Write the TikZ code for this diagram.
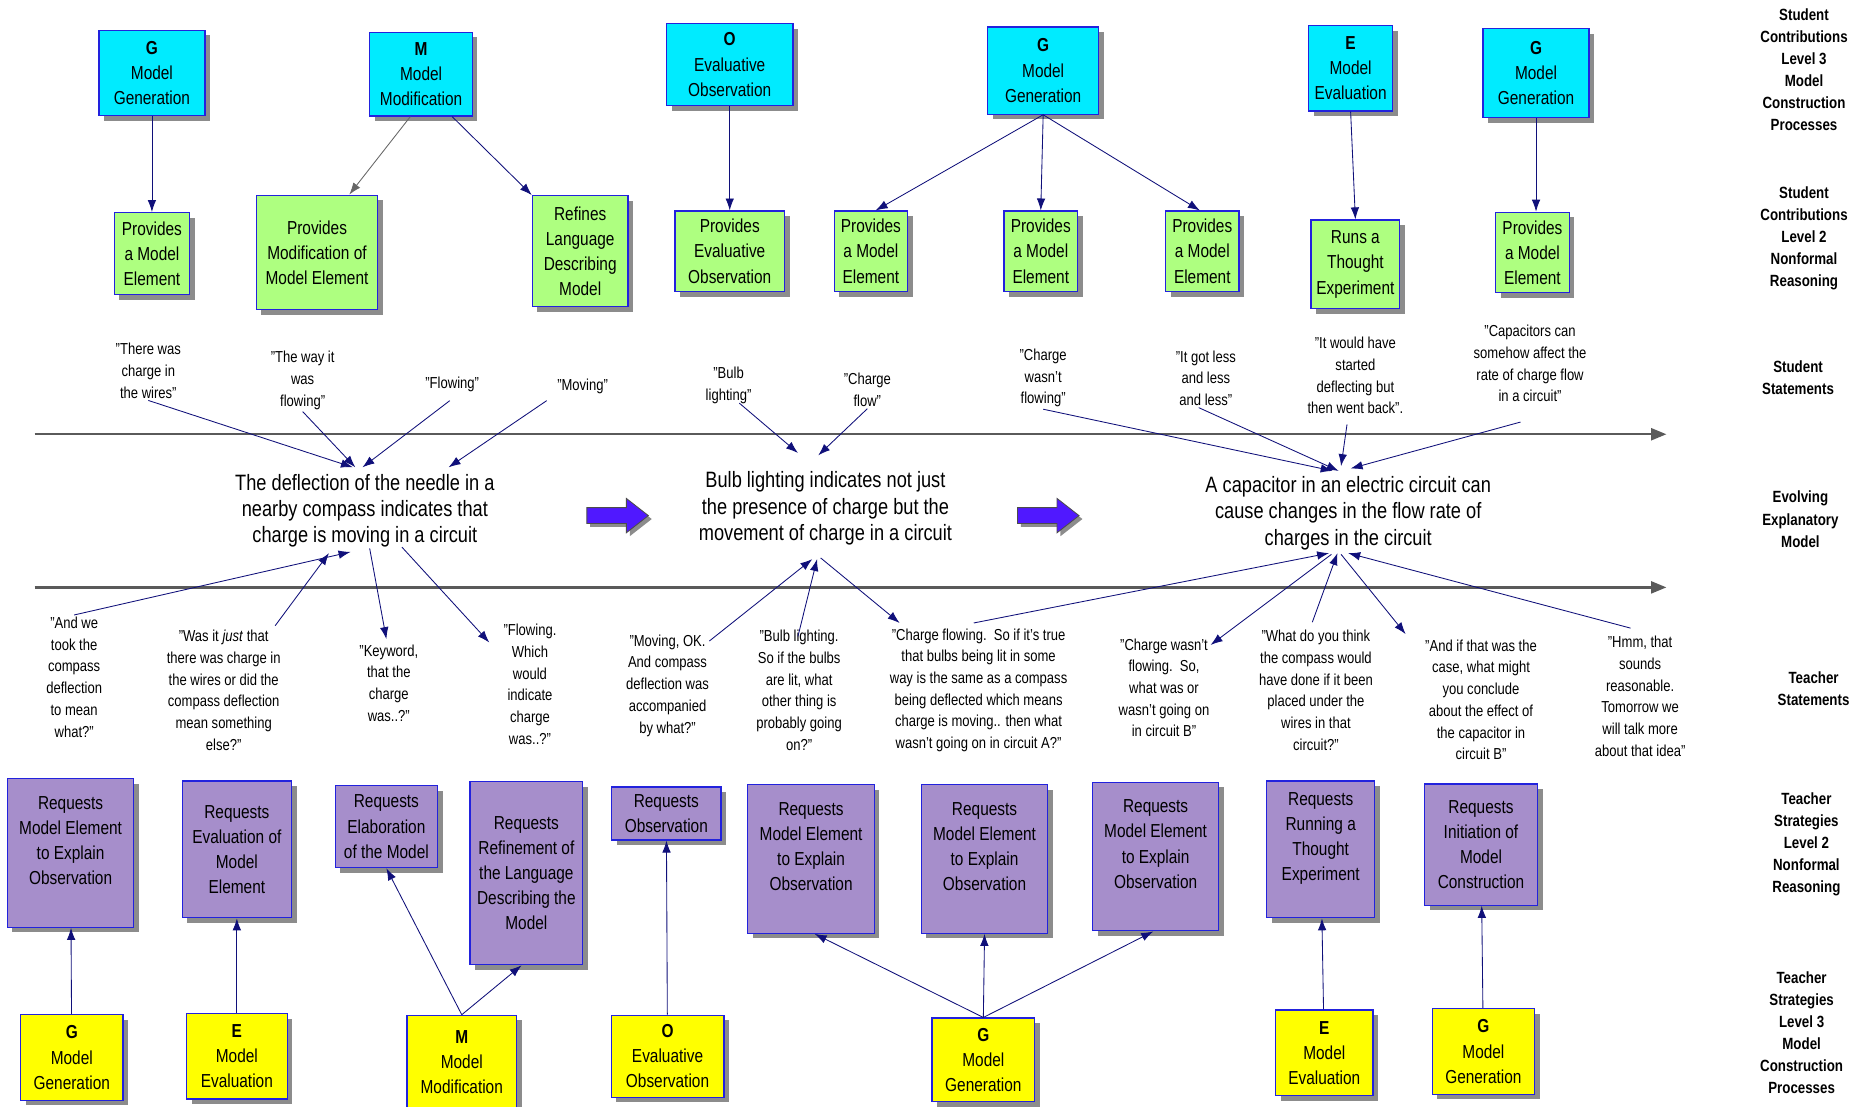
\documentclass[tikz,border=0pt]{standalone}
\usepackage{fontspec}
\setmainfont[FakeStretch=0.82, Ligatures=ResetAll]{Liberation Sans}
\usetikzlibrary{arrows.meta,shadows,shapes.arrows}
\definecolor{procblue}{HTML}{00EBFF}
\definecolor{reasongreen}{HTML}{AEFF80}
\definecolor{strategy}{HTML}{A68ECB}
\definecolor{teachyellow}{HTML}{FFFF00}
\definecolor{edgeblue}{HTML}{2222DD}
\definecolor{navy}{HTML}{10107A}
\definecolor{linegray}{HTML}{5A5A5A}
\definecolor{bluearrow}{HTML}{5018FF}
\begin{document}
\begin{tikzpicture}[x=0.7pt,y=-0.7pt,
  card/.style={draw=edgeblue, line width=0.7pt, align=center, inner sep=1pt,
    font=\fontsize{11}{14.7}\selectfont,
    drop shadow={shadow xshift=3pt, shadow yshift=-3pt, fill=black!45, opacity=1}},
  proc/.style={card, fill=procblue},
  reason/.style={card, fill=reasongreen},
  strat/.style={card, fill=strategy},
  tproc/.style={card, fill=teachyellow},
  said/.style={align=center, inner sep=1pt, font=\fontsize{9.3}{12.7}\selectfont},
  idea/.style={align=center, inner sep=1pt, font=\fontsize{13}{15.4}\selectfont},
  rowname/.style={align=center, inner sep=1pt, font=\bfseries\fontsize{9.5}{12.9}\selectfont},
  link/.style={draw=navy, line width=0.5pt, -{Latex[length=7pt,width=5pt]}},
  timeline/.style={draw=linegray, line width=1.4pt, -{Triangle[length=9pt,width=7pt]}},
  nextidea/.style={single arrow, fill=bluearrow, draw=black!70, line width=0.5pt,
    minimum height=36pt, inner xsep=0pt, inner ysep=4.4pt,
    single arrow head extend=5.4pt, single arrow tip angle=76,
    drop shadow={shadow xshift=2pt, shadow yshift=-2pt, fill=black!45, opacity=1}}]
  \path[use as bounding box, fill=white] (0,0) rectangle (1564,925);

  \node[proc, minimum width=62, minimum height=50] (SP1) at (127,61) {\textbf{G}\\Model\\Generation};
  \node[proc, minimum width=60, minimum height=49] (SP2) at (352,62) {\textbf{M}\\Model\\Modification};
  \node[proc, minimum width=74, minimum height=48] (SP3) at (610,54) {\textbf{O}\\Evaluative\\Observation};
  \node[proc, minimum width=65, minimum height=51] (SP4) at (872,59) {\textbf{G}\\Model\\Generation};
  \node[proc, minimum width=49, minimum height=50] (SP5) at (1129,57) {\textbf{E}\\Model\\Evaluation};
  \node[proc, minimum width=62, minimum height=52] (SP6) at (1284,61) {\textbf{G}\\Model\\Generation};

  \node[reason, minimum width=44, minimum height=48] (SR1) at (127,212) {Provides\\a Model\\Element};
  \node[reason, minimum width=71, minimum height=67] (SR2) at (265,211) {Provides\\Modification of\\Model Element};
  \node[reason, minimum width=56, minimum height=65] (SR3) at (485,210) {Refines\\Language\\Describing\\Model};
  \node[reason, minimum width=64, minimum height=47] (SR4) at (610,210) {Provides\\Evaluative\\Observation};
  \node[reason, minimum width=43, minimum height=47] (SR5) at (728,210) {Provides\\a Model\\Element};
  \node[reason, minimum width=43, minimum height=47] (SR6) at (870,210) {Provides\\a Model\\Element};
  \node[reason, minimum width=43, minimum height=47] (SR7) at (1005,210) {Provides\\a Model\\Element};
  \node[reason, minimum width=52, minimum height=52] (SR8) at (1133,221) {Runs a\\Thought\\Experiment};
  \node[reason, minimum width=43, minimum height=47] (SR9) at (1281,211) {Provides\\a Model\\Element};

  \node[said] (SS1) at (124,310) {"There was\\charge in\\the wires"};
  \node[said] (SS2) at (253,318) {"The way it\\was\\flowing"};
  \node[said] (SS3) at (378,321) {"Flowing"};
  \node[said] (SS4) at (487,323) {"Moving"};
  \node[said] (SS5) at (609,322) {"Bulb\\lighting"};
  \node[said] (SS6) at (725,326) {"Charge\\flow"};
  \node[said] (SS7) at (872,316) {"Charge\\wasn't\\flowing"};
  \node[said] (SS8) at (1008,316) {"It got less\\and less\\and less"};
  \node[said] (SS9) at (1133,314) {"It would have\\started\\deflecting but\\then went back".};
  \node[said] (SS10) at (1279,304) {"Capacitors can\\somehow affect the\\rate of charge flow\\in a circuit"};

  \coordinate (T1a) at (29,363);
  \coordinate (T1b) at (1393,363);
  \coordinate (T2a) at (29,491);
  \coordinate (T2b) at (1393,491);
  \draw[timeline] (T1a) -- (T1b);
  \draw[timeline] (T2a) -- (T2b);

  \node[idea] (EM1) at (305,427) {The deflection of the needle in a\\nearby compass indicates that\\charge is moving in a circuit};
  \node[idea] (EM2) at (690,425) {Bulb lighting indicates not just\\the presence of charge but the\\movement of charge in a circuit};
  \node[idea] (EM3) at (1127,429) {A capacitor in an electric circuit can\\cause changes in the flow rate of\\charges in the circuit};
  \node[nextidea] (N1) at (512,431) {};
  \node[nextidea] (N2) at (872,431) {};

  \node[said] (TS1) at (62,566) {"And we\\took the\\compass\\deflection\\to mean\\what?"};
  \node[said] (TS2) at (187,577) {"Was it \emph{just} that\\there was charge in\\the wires or did the\\compass deflection\\mean something\\else?"};
  \node[said] (TS3) at (325,571) {"Keyword,\\that the\\charge\\was..?"};
  \node[said] (TS4) at (443,572) {"Flowing.\\Which\\would\\indicate\\charge\\was..?"};
  \node[said] (TS5) at (558,573) {"Moving, OK.\\And compass\\deflection was\\accompanied\\by what?"};
  \node[said] (TS6) at (668,577) {"Bulb lighting.\\So if the bulbs\\are lit, what\\other thing is\\probably going\\on?"};
  \node[said] (TS7) at (818,577) {"Charge flowing.\ \ So if it's true\\that bulbs being lit in some\\way is the same as a compass\\being deflected which means\\charge is moving.. then what\\wasn't going on in circuit A?"};
  \node[said] (TS8) at (973,575) {"Charge wasn't\\flowing.\ \ So,\\what was or\\wasn't going on\\in circuit B"};
  \node[said] (TS9) at (1100,577) {"What do you think\\the compass would\\have done if it been\\placed under the\\wires in that\\circuit?"};
  \node[said] (TS10) at (1238,585) {"And if that was the\\case, what might\\you conclude\\about the effect of\\the capacitor in\\circuit B"};
  \node[said] (TS11) at (1371,582) {"Hmm, that\\sounds\\reasonable.\\Tomorrow we\\will talk more\\about that idea"};

  \node[strat, minimum width=74, minimum height=87] (TR1) at (59,713) {Requests\\Model Element\\to Explain\\Observation\\\mbox{}};
  \node[strat, minimum width=64, minimum height=80] (TR2) at (198,710) {Requests\\Evaluation of\\Model\\Element};
  \node[strat, minimum width=60, minimum height=48] (TR3) at (323,691) {Requests\\Elaboration\\of the Model};
  \node[strat, minimum width=66, minimum height=107] (TR4) at (440,730) {Requests\\Refinement of\\the Language\\Describing the\\Model};
  \node[strat, minimum width=64, minimum height=31] (TR5) at (557,680) {Requests\\Observation};
  \node[strat, minimum width=74, minimum height=87] (TR6) at (678,718) {Requests\\Model Element\\to Explain\\Observation\\\mbox{}};
  \node[strat, minimum width=74, minimum height=87] (TR7) at (823,718) {Requests\\Model Element\\to Explain\\Observation\\\mbox{}};
  \node[strat, minimum width=74, minimum height=87] (TR8) at (966,716) {Requests\\Model Element\\to Explain\\Observation\\\mbox{}};
  \node[strat, minimum width=63, minimum height=80] (TR9) at (1104,710) {Requests\\Running a\\Thought\\Experiment\\\mbox{}};
  \node[strat, minimum width=66, minimum height=71] (TR10) at (1238,706) {Requests\\Initiation of\\Model\\Construction};

  \node[tproc, minimum width=60, minimum height=50] (TP1) at (60,884) {\textbf{G}\\Model\\Generation};
  \node[tproc, minimum width=59, minimum height=50] (TP2) at (198,883) {\textbf{E}\\Model\\Evaluation};
  \node[tproc, minimum width=64, minimum height=55] (TP3) at (386,888) {\textbf{M}\\Model\\Modification};
  \node[tproc, minimum width=66, minimum height=48] (TP4) at (558,883) {\textbf{O}\\Evaluative\\Observation};
  \node[tproc, minimum width=60, minimum height=49] (TP5) at (822,886) {\textbf{G}\\Model\\Generation};
  \node[tproc, minimum width=57, minimum height=50] (TP6) at (1107,880) {\textbf{E}\\Model\\Evaluation};
  \node[tproc, minimum width=60, minimum height=50] (TP7) at (1240,879) {\textbf{G}\\Model\\Generation};

  \node[rowname] (L1) at (1508,58) {Student\\Contributions\\Level 3\\Model\\Construction\\Processes};
  \node[rowname] (L2) at (1508,199) {Student\\Contributions\\Level 2\\Nonformal\\Reasoning};
  \node[rowname] (L3) at (1503,316) {Student\\Statements};
  \node[rowname] (L4) at (1505,434) {Evolving\\Explanatory\\Model};
  \node[rowname] (L5) at (1516,576) {Teacher\\Statements};
  \node[rowname] (L6) at (1510,706) {Teacher\\Strategies\\Level 2\\Nonformal\\Reasoning};
  \node[rowname] (L7) at (1506,863) {Teacher\\Strategies\\Level 3\\Model\\Construction\\Processes};

  \draw[link] (SP1) -- (SR1);
  \draw[link, draw=gray!80!black] ([shift={(-9,0)}]SP2.south) -- ([shift={(27,0)}]SR2.north);
  \draw[link] ([shift={(26,0)}]SP2.south) -- (SR3.north west);
  \draw[link] (SP3) -- (SR4);
  \draw[link] (SP4.south) -- ([shift={(4,0)}]SR5.north);
  \draw[link] (SP4.south) -- (SR6.north);
  \draw[link] (SP4.south) -- ([shift={(-2,0)}]SR7.north);
  \draw[link] (SP5.south) -- (SR8.north);
  \draw[link] (SP6.south) -- ([shift={(3,0)}]SR9.north);

  \draw[link] (SS1.south) -- ([shift={(-10,-4)}]EM1.north);
  \draw[link] (SS2.south) -- ([shift={(-8,-4)}]EM1.north);
  \draw[link] ([shift={(-2,6)}]SS3.south) -- ([shift={(-2,-4)}]EM1.north);
  \draw[link] ([shift={(-30,4)}]SS4.south) -- ([shift={(70,-4)}]EM1.north);
  \draw[link] ([shift={(9,-2)}]SS5.south) -- ([shift={(-23,-14)}]EM2.north);
  \draw[link] (SS6.south) -- ([shift={(-6,-12)}]EM2.north);
  \draw[link] (SS7.south) -- ([shift={(-13,-3)}]EM3.north);
  \draw[link] ([shift={(-6,0)}]SS8.south) -- ([shift={(-8,-3)}]EM3.north);
  \draw[link] ([shift={(-7,7)}]SS9.south) -- ([shift={(-6,-7)}]EM3.north);
  \draw[link] ([shift={(-8,15)}]SS10.south) -- ([shift={(2,-5)}]EM3.north);

  \draw[link] (TS1.north) -- ([shift={(-12,2)}]EM1.south);
  \draw[link] ([shift={(43,-2)}]TS2.north) -- ([shift={(-30,3)}]EM1.south);
  \draw[link] ([shift={(4,-1)}]EM1.south) -- ([shift={(-2,-3)}]TS3.north);
  \draw[link] ([shift={(31,-2)}]EM1.south) -- ([shift={(-34,17)}]TS4.north);
  \draw[link] ([shift={(35,7)}]TS5.north) -- ([shift={(-11,10)}]EM2.south);
  \draw[link] ([shift={(-1,7)}]TS6.north) -- ([shift={(-7,10)}]EM2.south);
  \draw[link] ([shift={(-4,9)}]EM2.south) -- ([shift={(-66,-3)}]TS7.north);
  \draw[link] ([shift={(-4,-3)}]TS7.north) -- ([shift={(-16,1)}]EM3.south);
  \draw[link] ([shift={(-14,2)}]EM3.south) -- ([shift={(39,7)}]TS8.north);
  \draw[link] ([shift={(-3,-5)}]TS9.north) -- ([shift={(-9,1)}]EM3.south);
  \draw[link] ([shift={(-6,2)}]EM3.south) -- ([shift={(-63,-3)}]TS10.north);
  \draw[link] ([shift={(-8,-5)}]TS11.north) -- ([shift={(0,1)}]EM3.south);

  \draw[link] (TP1) -- (TR1);
  \draw[link] (TP2) -- (TR2);
  \draw[link] (TP3.north) -- (TR3.south);
  \draw[link] (TP3.north) -- ([shift={(-4,0)}]TR4.south);
  \draw[link] (TP4) -- (TR5);
  \draw[link] (TP5.north) -- ([shift={(3,0)}]TR6.south);
  \draw[link] (TP5.north) -- (TR7.south);
  \draw[link] (TP5.north) -- ([shift={(-2,0)}]TR8.south);
  \draw[link] (TP6) -- (TR9);
  \draw[link] (TP7) -- (TR10);
\end{tikzpicture}
\end{document}
